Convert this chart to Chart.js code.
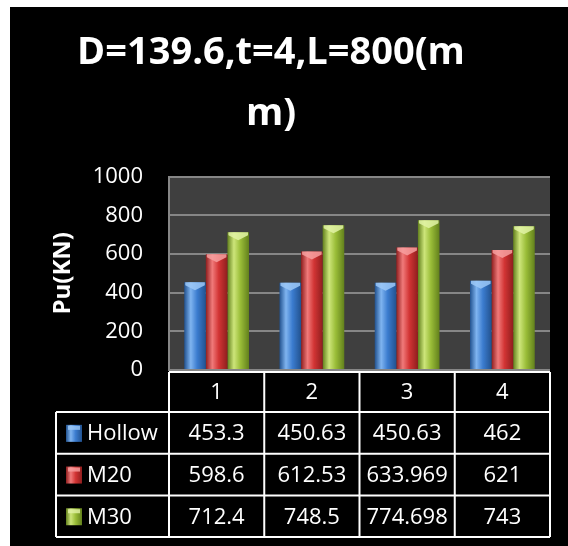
<!DOCTYPE html>
<html>
<head>
<meta charset="utf-8">
<script src="https://cdn.jsdelivr.net/npm/chart.js@4/dist/chart.umd.min.js"></script>
<style>
  html, body { margin: 0; padding: 0; background: #fff; }
  #wrap { position: absolute; left: 10px; top: 7px; width: 558px; height: 539px; background: #000; }
  canvas { display: block; }
</style>
</head>
<body>
<div id="wrap"><canvas id="c" width="558" height="539"></canvas></div>
<script>
// Data
const categories = ['1', '2', '3', '4'];
const seriesNames = ['Hollow', 'M20', 'M30'];
const hollow = [453.3, 450.63, 450.63, 462];
const m20 = [598.6, 612.53, 633.969, 621];
const m30 = [712.4, 748.5, 774.698, 743];
const yTicks = [0, 200, 400, 600, 800, 1000];
const titleLines = ['D=139.6,t=4,L=800(m', 'm)'];
const yTitle = 'Pu(KN)';

// Cylinder shading for each series
const palette = [
  { base: '#3b7ccf', light: '#7fb4f0', dark: '#22528f', cap: '#9cc8f7' },
  { base: '#d23434', light: '#f07a7a', dark: '#8f1e1e', cap: '#f7a0a0' },
  { base: '#9abd38', light: '#cde57a', dark: '#62801c', cap: '#e2f3a6' }
];

const FONT = "'Open Sans', 'DejaVu Sans', sans-serif";

function barGradient(ctx, l, r, p) {
  const g = ctx.createLinearGradient(l, 0, r, 0);
  g.addColorStop(0, p.dark);
  g.addColorStop(0.3, p.light);
  g.addColorStop(0.6, p.base);
  g.addColorStop(1, p.dark);
  return g;
}

// Grey plot background
const plotBg = {
  id: 'plotBg',
  beforeDraw(chart) {
    const { ctx, chartArea: a } = chart;
    ctx.save();
    ctx.fillStyle = '#3f3f3f';
    ctx.fillRect(a.left, a.top, a.right - a.left, a.bottom - a.top);
    ctx.restore();
  }
};

// Rounded-column look: horizontal gradient plus a lighter top cap
const cylinder = {
  id: 'cylinder',
  beforeDatasetsDraw(chart) {
    const ctx = chart.ctx;
    chart.data.datasets.forEach((ds, di) => {
      const p = palette[di];
      chart.getDatasetMeta(di).data.forEach(bar => {
        const l = bar.x - bar.width / 2, r = bar.x + bar.width / 2;
        bar.options.backgroundColor = barGradient(ctx, l, r, p);
      });
    });
  },
  afterDatasetsDraw(chart) {
    const ctx = chart.ctx;
    ctx.save();
    chart.data.datasets.forEach((ds, di) => {
      const p = palette[di];
      chart.getDatasetMeta(di).data.forEach(bar => {
        const l = bar.x - bar.width / 2, r = bar.x + bar.width / 2, y = bar.y;
        ctx.fillStyle = p.cap;
        ctx.globalAlpha = 0.85;
        ctx.beginPath();
        ctx.moveTo(l + 1, y);
        ctx.lineTo(r - 1, y);
        ctx.lineTo(r - 1, y + 3);
        ctx.lineTo(bar.x, y + 8);
        ctx.lineTo(l + 1, y + 3);
        ctx.closePath();
        ctx.fill();
      });
    });
    ctx.restore();
  }
};

// Data table under the plot, with legend keys
const dataTable = {
  id: 'dataTable',
  afterDraw(chart) {
    const { ctx, chartArea: a } = chart;
    const series = chart.data.datasets;
    const n = categories.length;
    const cw = (a.right - a.left) / n;
    const legendLeft = 46;
    const rows = [a.bottom + 2, a.bottom + 42];
    for (let i = 0; i < series.length; i++) rows.push(rows[rows.length - 1] + 41.7);

    ctx.save();
    ctx.strokeStyle = '#ffffff';
    ctx.lineWidth = 2;
    ctx.beginPath();
    // horizontal rules
    ctx.moveTo(a.left, rows[0]); ctx.lineTo(a.right, rows[0]);
    for (let i = 1; i < rows.length; i++) {
      ctx.moveTo(legendLeft, rows[i]); ctx.lineTo(a.right, rows[i]);
    }
    // vertical rules
    ctx.moveTo(legendLeft, rows[1]); ctx.lineTo(legendLeft, rows[rows.length - 1]);
    for (let k = 0; k <= n; k++) {
      const x = a.left + k * cw;
      ctx.moveTo(x, rows[0]); ctx.lineTo(x, rows[rows.length - 1]);
    }
    ctx.stroke();

    ctx.fillStyle = '#ffffff';
    ctx.font = '22px ' + FONT;
    ctx.textBaseline = 'middle';
    ctx.textAlign = 'center';
    categories.forEach((c, k) => {
      ctx.fillText(c, a.left + (k + 0.5) * cw, (rows[0] + rows[1]) / 2 + 1);
    });
    series.forEach((ds, si) => {
      const yMid = (rows[si + 1] + rows[si + 2]) / 2 + 1;
      ds.data.forEach((v, k) => {
        ctx.textAlign = 'center';
        ctx.fillStyle = '#ffffff';
        ctx.fillText(String(v), a.left + (k + 0.5) * cw, yMid);
      });
      // legend key
      const p = palette[si];
      const kx = 56, ky = yMid - 9;
      ctx.fillStyle = barGradient(ctx, kx, kx + 16, p);
      ctx.fillRect(kx, ky, 16, 17);
      ctx.fillStyle = p.cap;
      ctx.globalAlpha = 0.8;
      ctx.fillRect(kx + 2, ky + 1, 12, 4);
      ctx.globalAlpha = 1;
      ctx.fillStyle = '#ffffff';
      ctx.textAlign = 'left';
      ctx.fillText(ds.label, 77, yMid);
    });
    ctx.restore();
  }
};

new Chart(document.getElementById('c'), {
  type: 'bar',
  data: {
    labels: categories,
    datasets: [
      { label: seriesNames[0], data: hollow },
      { label: seriesNames[1], data: m20 },
      { label: seriesNames[2], data: m30 }
    ].map((d, i) => Object.assign(d, {
      backgroundColor: () => palette[i].base,
      borderWidth: 0,
      categoryPercentage: 0.68,
      barPercentage: 1.0
    }))
  },
  options: {
    responsive: false,
    animation: false,
    events: [],
    layout: { padding: { left: -18, right: 18, top: 0, bottom: 176 } },
    plugins: {
      legend: { display: false },
      tooltip: { enabled: false },
      title: {
        display: true,
        text: titleLines,
        color: '#ffffff',
        font: { family: FONT, size: 38, weight: 'bold', lineHeight: 1.6 },
        padding: { top: 16, bottom: 32 }
      }
    },
    scales: {
      x: { display: false },
      y: {
        min: 0,
        max: 1000,
        afterBuildTicks(scale) { scale.ticks = yTicks.map(v => ({ value: v })); },
        afterFit(scale) { scale.width = 177; },
        ticks: {
          color: '#ffffff',
          padding: 26,
          font: { family: FONT, size: 22 },
          callback: v => String(v)
        },
        grid: { color: '#868686', lineWidth: 2, drawTicks: false },
        border: { display: true, color: '#868686', width: 2 },
        title: {
          display: true,
          text: yTitle,
          color: '#ffffff',
          font: { family: FONT, size: 24, weight: 'bold', lineHeight: 1.2 },
          padding: { top: 57, bottom: 0 }
        }
      }
    }
  },
  plugins: [plotBg, cylinder, dataTable]
});
</script>
</body>
</html>
